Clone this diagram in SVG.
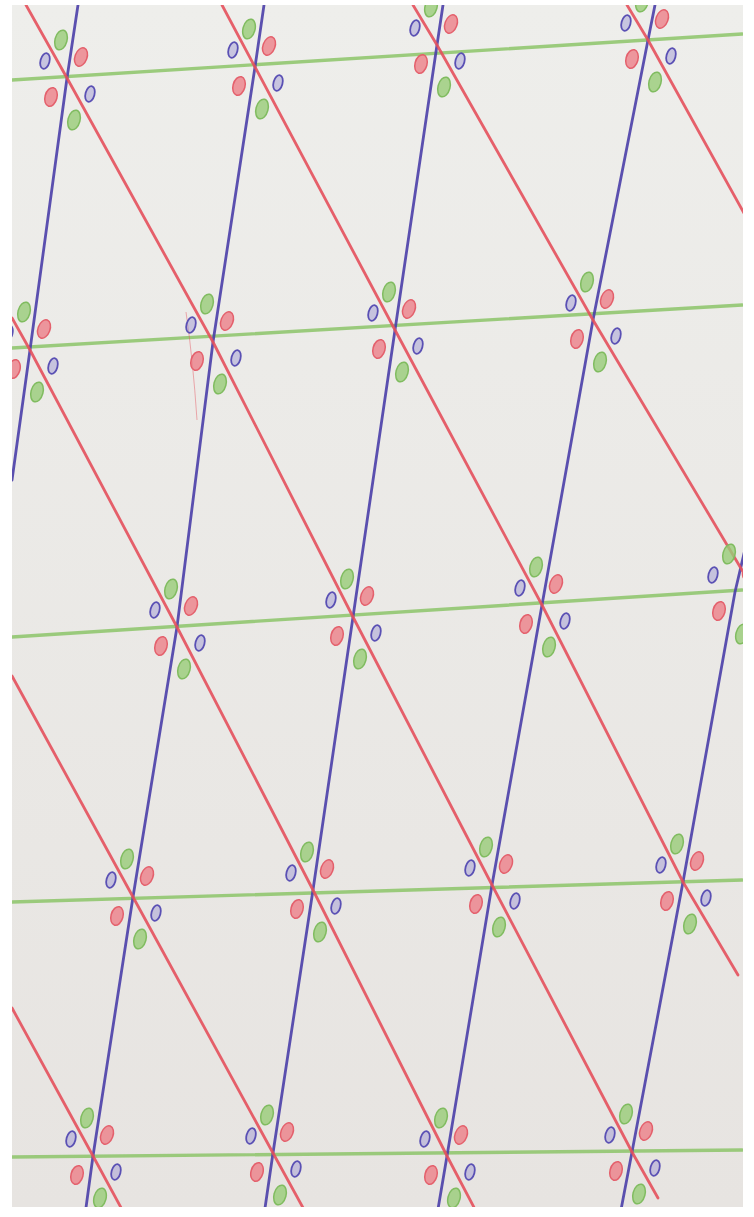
<svg xmlns="http://www.w3.org/2000/svg" xmlns:xlink="http://www.w3.org/1999/xlink" width="754" height="1217" viewBox="0 0 754 1217">
<style>
.g{fill:none;stroke:#8cc468;stroke-width:3.4;stroke-linecap:round;stroke-linejoin:round;opacity:0.85}
.b{fill:none;stroke:#4a3ea8;stroke-width:2.8;stroke-linecap:round;stroke-linejoin:round;opacity:0.9}
.r{fill:none;stroke:#e4505c;stroke-width:2.8;stroke-linecap:round;stroke-linejoin:round;opacity:0.9}
.or{fill:#ec7f88;fill-opacity:0.8;stroke:#e4606c;stroke-width:1.5}
.og{fill:#98cc78;fill-opacity:0.8;stroke:#80bc60;stroke-width:1.5}
.ob{fill:#9a92d2;fill-opacity:0.45;stroke:#5a50b4;stroke-width:1.8}
</style>
<defs>
<linearGradient id="paper" x1="0" y1="0" x2="0" y2="1">
<stop offset="0" stop-color="#eeeeeb"/>
<stop offset="1" stop-color="#e7e4e1"/>
</linearGradient>
<clipPath id="clip"><rect x="12" y="5" width="731" height="1202"/></clipPath>
<g id="cl">
<ellipse class="ob" cx="-22" cy="-17" rx="4.5" ry="8" transform="rotate(15 -22 -17)"/>
<ellipse class="og" cx="-6" cy="-38" rx="6" ry="10" transform="rotate(15 -6 -38)"/>
<ellipse class="or" cx="14" cy="-21" rx="6" ry="9.5" transform="rotate(20 14 -21)"/>
<ellipse class="or" cx="-16" cy="19" rx="6" ry="9.5" transform="rotate(15 -16 19)"/>
<ellipse class="ob" cx="23" cy="16" rx="4.5" ry="8" transform="rotate(15 23 16)"/>
<ellipse class="og" cx="7" cy="42" rx="6" ry="10" transform="rotate(15 7 42)"/>
</g>
</defs>
<rect x="0" y="0" width="754" height="1217" fill="#ffffff"/>
<rect x="12" y="5" width="731" height="1202" fill="url(#paper)"/>
<g clip-path="url(#clip)">
<g id="connectors">
<g id="green-lines">
<path class="g" d="M12,80 L742,34"/>
<path class="g" d="M12,348 L742,305"/>
<path class="g" d="M12,637 L742,590"/>
<path class="g" d="M12,902 L742,880"/>
<path class="g" d="M12,1157 L742,1150"/>
</g>
<g id="blue-lines">
<path class="b" d="M78,5 L67,78 L30,350 L12,480"/>
<path class="b" d="M264,5 L255,67 L213,342 L177,627 L133,897 L93,1156 L85,1215"/>
<path class="b" d="M443,5 L437,45 L395,330 L353,617 L313,890 L273,1153 L264,1215"/>
<path class="b" d="M655,5 L648,40 L593,320 L542,605 L492,885 L447,1156 L437,1215"/>
<path class="b" d="M746,545 L735,592 L683,882 L632,1152 L620,1215"/>
</g>
<g id="red-lines">
<path class="r" d="M26,5 L67,78 L213,342 L353,617 L492,885 L632,1152 L658,1198"/>
<path class="r" d="M222,5 L255,67 L395,330 L542,605 L683,882 L738,975"/>
<path class="r" d="M413,5 L437,45 L593,320 L745,575" opacity="0.7"/>
<path class="r" d="M627,5 L648,40 L745,215"/>
<path class="r" d="M12,318 L30,350 L177,627 L313,890 L447,1156 L478,1215"/>
<path class="r" d="M12,676 L133,897 L273,1153 L307,1215"/>
<path class="r" d="M12,1008 L93,1156 L125,1215"/>
<path d="M186,312 Q193,360 197,420" fill="none" stroke="#e4505c" stroke-width="1" opacity="0.45"/>
</g>
</g>
<g id="v1-1"><use href="#cl" x="67" y="78"/></g>
<g id="v1-2"><use href="#cl" x="255" y="67"/></g>
<g id="v1-3"><use href="#cl" x="437" y="45"/></g>
<g id="v1-4"><use href="#cl" x="648" y="40"/></g>
<g id="v2-1"><use href="#cl" x="30" y="350"/></g>
<g id="v2-2"><use href="#cl" x="213" y="342"/></g>
<g id="v2-3"><use href="#cl" x="395" y="330"/></g>
<g id="v2-4"><use href="#cl" x="593" y="320"/></g>
<g id="v3-1"><use href="#cl" x="177" y="627"/></g>
<g id="v3-2"><use href="#cl" x="353" y="617"/></g>
<g id="v3-3"><use href="#cl" x="542" y="605"/></g>
<g id="v3-4"><use href="#cl" x="735" y="592"/></g>
<g id="v4-1"><use href="#cl" x="133" y="897"/></g>
<g id="v4-2"><use href="#cl" x="313" y="890"/></g>
<g id="v4-3"><use href="#cl" x="492" y="885"/></g>
<g id="v4-4"><use href="#cl" x="683" y="882"/></g>
<g id="v5-1"><use href="#cl" x="93" y="1156"/></g>
<g id="v5-2"><use href="#cl" x="273" y="1153"/></g>
<g id="v5-3"><use href="#cl" x="447" y="1156"/></g>
<g id="v5-4"><use href="#cl" x="632" y="1152"/></g>
</g>
</svg>
